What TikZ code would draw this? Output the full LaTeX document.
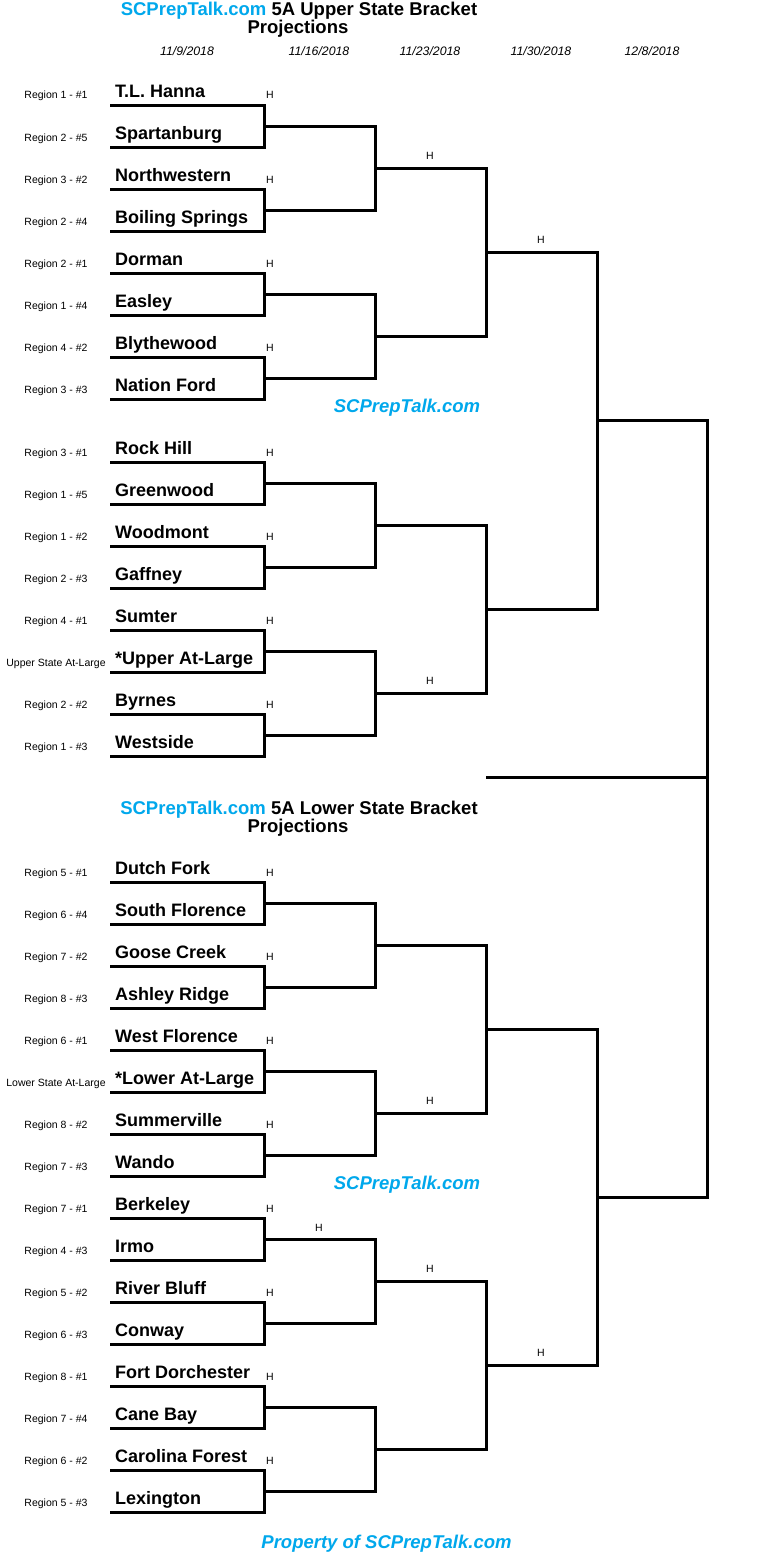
\documentclass[tikz,border=0pt]{standalone}
\usepackage{fontspec}
\setmainfont{Liberation Sans}
\usetikzlibrary{calc}
\definecolor{scblue}{RGB}{0,168,236}

\begin{document}
\begin{tikzpicture}[
    x=1pt, y=-1pt,
    team/.style={anchor=base west, inner sep=0pt, font=\fontsize{18}{20}\selectfont\bfseries},
    region/.style={anchor=base, inner sep=0pt, font=\fontsize{10.5}{12}\selectfont},
    hmark/.style={anchor=base, inner sep=0pt, font=\fontsize{10.5}{12}\selectfont},
    datelbl/.style={anchor=base, inner sep=0pt, font=\fontsize{12.3}{14}\selectfont\itshape},
    title/.style={anchor=base, inner sep=0pt, font=\fontsize{18.5}{20}\selectfont\bfseries},
    wmark/.style={anchor=base, inner sep=0pt, text=scblue, font=\fontsize{18.5}{20}\selectfont\bfseries\itshape},
    bline/.style={line width=3pt, line join=miter},
]
\fill[white] (0,0) rectangle (772,1555);
\useasboundingbox (0,0) rectangle (772,1555);

% Titles and dates
\node[title] (uptitle) at (299,16) {\textcolor{scblue}{SCPrepTalk.com} 5A Upper State Bracket};
\node[title] (upproj) at (298,34) {Projections};
\node[title] (lotitle) at (299,814) {\textcolor{scblue}{SCPrepTalk.com} 5A Lower State Bracket};
\node[title] (loproj) at (298,832) {Projections};

\node[datelbl] (d1) at (187,56) {11/9/2018};
\node[datelbl] (d2) at (319,56) {11/16/2018};
\node[datelbl] (d3) at (430,56) {11/23/2018};
\node[datelbl] (d4) at (541,56) {11/30/2018};
\node[datelbl] (d5) at (652,56) {12/8/2018};

% Upper state slots
\foreach \team/\reg [count=\i from 0] in {
    T.L. Hanna/Region 1 - \#1, Spartanburg/Region 2 - \#5,
    Northwestern/Region 3 - \#2, Boiling Springs/Region 2 - \#4,
    Dorman/Region 2 - \#1, Easley/Region 1 - \#4,
    Blythewood/Region 4 - \#2, Nation Ford/Region 3 - \#3,
    Rock Hill/Region 3 - \#1, Greenwood/Region 1 - \#5,
    Woodmont/Region 1 - \#2, Gaffney/Region 2 - \#3,
    Sumter/Region 4 - \#1, *Upper At-Large/Upper State At-Large,
    Byrnes/Region 2 - \#2, Westside/Region 1 - \#3} {
  \pgfmathsetmacro\y{105+42*\i+21*(\i>7)}
  \coordinate (ua\i) at (110,\y);
  \coordinate (ub\i) at (264,\y);
  \node[team] (ut\i) at (115,\y-8) {\team};
  \node[region] (ur\i) at (56,\y-6) {\reg};
}

% Lower state slots
\foreach \team/\reg [count=\i from 0] in {
    Dutch Fork/Region 5 - \#1, South Florence/Region 6 - \#4,
    Goose Creek/Region 7 - \#2, Ashley Ridge/Region 8 - \#3,
    West Florence/Region 6 - \#1, *Lower At-Large/Lower State At-Large,
    Summerville/Region 8 - \#2, Wando/Region 7 - \#3,
    Berkeley/Region 7 - \#1, Irmo/Region 4 - \#3,
    River Bluff/Region 5 - \#2, Conway/Region 6 - \#3,
    Fort Dorchester/Region 8 - \#1, Cane Bay/Region 7 - \#4,
    Carolina Forest/Region 6 - \#2, Lexington/Region 5 - \#3} {
  \pgfmathsetmacro\y{882+42*\i}
  \coordinate (la\i) at (110,\y);
  \coordinate (lb\i) at (264,\y);
  \node[team] (lt\i) at (115,\y-8) {\team};
  \node[region] (lr\i) at (56,\y-6) {\reg};
}

% Bracket lines, round by round
\foreach \p in {u,l} {
  \foreach \k in {0,...,7} {
    \pgfmathtruncatemacro\a{2*\k}
    \pgfmathtruncatemacro\b{2*\k+1}
    \draw[bline] (\p a\a) -- (\p b\a) -- (\p b\b) -- (\p a\b);
    \path ($(\p b\a)!.5!(\p b\b)$) coordinate (\p 2a\k) ++(111,0) coordinate (\p 2b\k);
    \node[hmark] (\p h\a) at ([shift={(6,-6)}]\p b\a) {H};
  }
  \foreach \k in {0,...,3} {
    \pgfmathtruncatemacro\a{2*\k}
    \pgfmathtruncatemacro\b{2*\k+1}
    \draw[bline] (\p 2a\a) -- (\p 2b\a) -- (\p 2b\b) -- (\p 2a\b);
    \path ($(\p 2b\a)!.5!(\p 2b\b)$) coordinate (\p 3a\k) ++(111,0) coordinate (\p 3b\k);
  }
  \foreach \k in {0,1} {
    \pgfmathtruncatemacro\a{2*\k}
    \pgfmathtruncatemacro\b{2*\k+1}
    \draw[bline] (\p 3a\a) -- (\p 3b\a) -- (\p 3b\b) -- (\p 3a\b);
    \path ($(\p 3b\a)!.5!(\p 3b\b)$) coordinate (\p 4a\k) ++(111,0) coordinate (\p 4b\k);
  }
  \draw[bline] (\p 4a0) -- (\p 4b0) -- (\p 4b1) -- (\p 4a1);
}

% Semifinal and final
\coordinate (u5a) at (597,420);
\coordinate (u5b) at (707,420);
\path ($(l4b0)!.5!(l4b1)$) coordinate (l5a) ++(110,0) coordinate (l5b);
\draw[bline] (u5a) -- (u5b) -- (l5b) -- (l5a);
\coordinate (champ) at (486,777);
\draw[bline] (champ) -- (champ -| u5b);

% Home marks on later rounds
\node[hmark] (uh3a) at ([shift={(-56,-9)}]u3b0) {H};
\node[hmark] (uh4a) at ([shift={(-56,-9)}]u4b0) {H};
\node[hmark] (uh3d) at ([shift={(-56,-9)}]u3b3) {H};
\node[hmark] (lh3b) at ([shift={(-56,-9)}]l3b1) {H};
\node[hmark] (lh2e) at ([shift={(-56,-8)}]l2b4) {H};
\node[hmark] (lh3c) at ([shift={(-56,-9)}]l3b2) {H};
\node[hmark] (lh4b) at ([shift={(-56,-9)}]l4b1) {H};

% Watermarks
\node[wmark] (wm1) at (407,412) {SCPrepTalk.com};
\node[wmark] (wm2) at (407,1189) {SCPrepTalk.com};
\node[wmark] (prop) at (386.5,1548) {Property of SCPrepTalk.com};

\end{tikzpicture}
\end{document}
